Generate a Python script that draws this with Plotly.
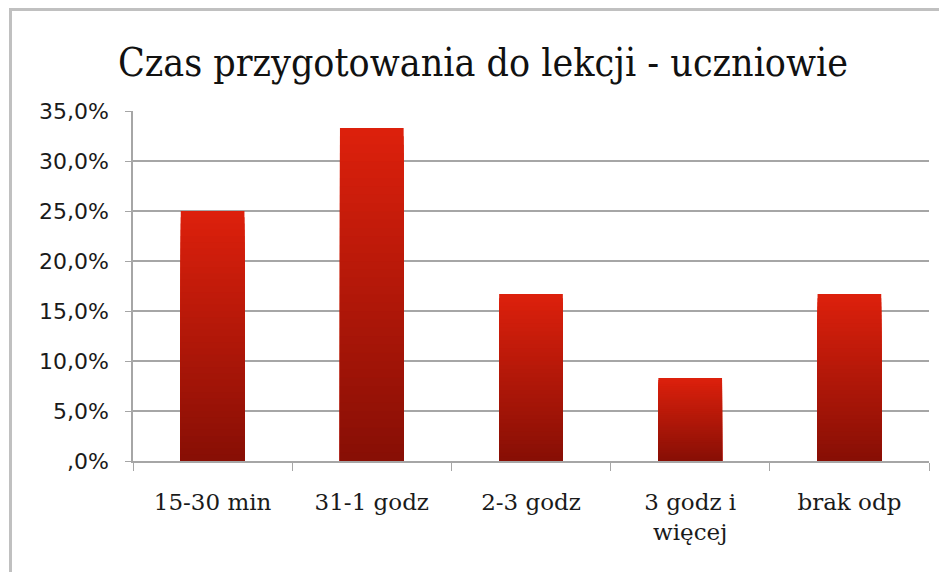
import plotly.graph_objects as go

# ---- data ----
categories = ["15-30 min", "31-1 godz", "2-3 godz", "3 godz i<br>więcej", "brak odp"]
values = [25.0, 33.3, 16.7, 8.3, 16.7]
tick_values = [0, 5, 10, 15, 20, 25, 30, 35]
tick_labels = [",0%", "5,0%", "10,0%", "15,0%", "20,0%", "25,0%", "30,0%", "35,0%"]
title_text = "Czas przygotowania do lekcji - uczniowie"

# ---- style ----
OFF = 8  # page body margin
W, H = 947 - OFF, 572 - OFF
L, R, T, B = 133 - OFF, W - (929 - OFF), 111 - OFF, H - (461 - OFF)
top_rgb = (220, 32, 12)
bot_rgb = (136, 15, 5)
N = 40

def lerp(a, b, t):
    return tuple(round(a[i] + (b[i] - a[i]) * t) for i in range(3))

fig = go.Figure()
# vertical gradient: overlay progressively shorter, darker copies of each bar
for k in range(N):
    frac = (N - k) / N
    c = lerp(top_rgb, bot_rgb, k / (N - 1))
    fig.add_trace(go.Bar(
        x=categories,
        y=[v * frac for v in values],
        width=0.4,
        marker=dict(color="rgb(%d,%d,%d)" % c, line=dict(width=0)),
        showlegend=False,
        hoverinfo="skip" if k else "x+y",
    ))

pw = W - L - R
ph = H - T - B
def px_x(x):  # page pixel -> paper coordinate
    return (x - OFF - L) / pw
def px_y(y):
    return (H - B - (y - OFF)) / ph

shapes = [
    dict(type="line", xref="paper", yref="paper",
         x0=px_x(9), x1=px_x(960), y0=px_y(9.5), y1=px_y(9.5),
         line=dict(color="#c0c0c0", width=3)),
    dict(type="line", xref="paper", yref="paper",
         x0=px_x(10.5), x1=px_x(10.5), y0=px_y(8), y1=px_y(590),
         line=dict(color="#c0c0c0", width=3)),
]

fig.update_layout(
    width=W, height=H,
    margin=dict(l=L, r=R, t=T, b=B, pad=0),
    paper_bgcolor="white", plot_bgcolor="white",
    barmode="overlay",
    bargap=0.6,
    title=dict(text=title_text, x=(483 - OFF) / W, xanchor="center",
               y=1 - (62 - OFF) / H, yanchor="middle",
               font=dict(family="DejaVu Serif Condensed, Liberation Serif, serif",
                         size=39, color="#111111")),
    shapes=shapes,
    xaxis=dict(
        type="category",
        showgrid=False,
        showline=True, linecolor="#a6a6a6", linewidth=1.5,
        ticks="outside", tickson="boundaries", ticklen=8, tickcolor="#a6a6a6",
        ticklabelstandoff=20,
        tickfont=dict(family="DejaVu Serif, Liberation Serif, serif", size=23, color="#1a1a1a"),
        range=[-0.5, 4.5],
    ),
    yaxis=dict(
        range=[0, 35],
        tickvals=tick_values, ticktext=tick_labels,
        showgrid=True, gridcolor="#a6a6a6", gridwidth=1.5,
        showline=True, linecolor="#a6a6a6", linewidth=1.5,
        ticks="outside", ticklen=6, tickcolor="#a6a6a6",
        ticklabelstandoff=12,
        tickfont=dict(family="DejaVu Sans, Verdana, sans-serif", size=22, color="#1a1a1a"),
        zeroline=False,
    ),
)

fig.write_html("out.html")
